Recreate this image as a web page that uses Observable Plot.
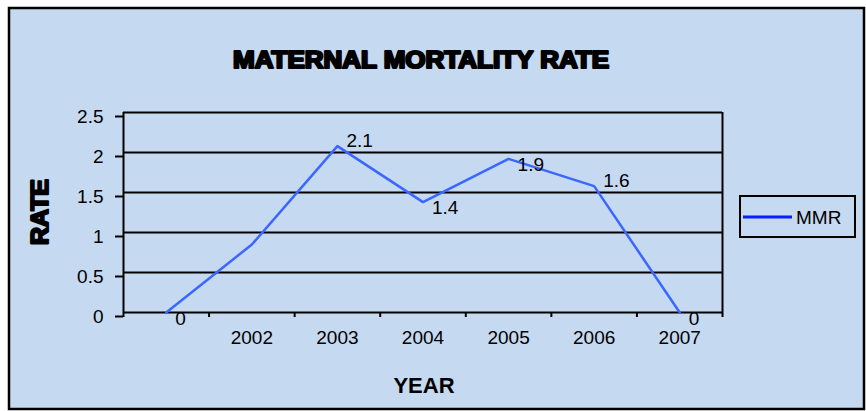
<!DOCTYPE html>
<html><head><meta charset="utf-8">
<script src="https://cdn.jsdelivr.net/npm/d3@7"></script>
<script src="https://cdn.jsdelivr.net/npm/@observablehq/plot@0.6"></script>
<style>html,body{margin:0;padding:0;background:#fff} svg{display:block}</style>
</head><body><div id="chart"></div>
<script>
const categories = ["", "2002", "2003", "2004", "2005", "2006", "2007"];
const values = [0, 0.85, 2.08, 1.38, 1.92, 1.58, 0];
const dataLabels = ["0", "", "2.1", "1.4", "1.9", "1.6", "0"];
const labelsBelow = ["0", "1.4", "1.9"];
const yTicks = [0, 0.5, 1, 1.5, 2, 2.5];
const seriesName = "MMR";
const chartTitle = "MATERNAL MORTALITY RATE";
const xTitle = "YEAR";
const yTitle = "RATE";

const data = categories.map((c, i) => ({i, c, v: values[i], label: dataLabels[i]}));
const bounds = d3.range(categories.length + 1).map(i => i - 0.5);
const font = "'Liberation Sans', Arial, sans-serif";

const plot = Plot.plot({
  width: 866, height: 411,
  marginLeft: 123, marginRight: 144, marginTop: 112, marginBottom: 99,
  style: {background: "transparent", fontFamily: font, fontSize: "19px", color: "#000"},
  x: {type: "linear", domain: [-0.5, categories.length - 0.5]},
  y: {domain: [0, 2.5]},
  marks: [
    Plot.gridY(yTicks, {stroke: "#000", strokeOpacity: 1, strokeWidth: 2}),
    Plot.ruleX([bounds[0], bounds[bounds.length - 1]], {stroke: "#000", strokeWidth: 2}),
    Plot.axisY(yTicks, {tickSize: 8, tickPadding: 12, strokeWidth: 2, stroke: "#000", fontSize: 19, dy: 4, label: null, tickFormat: d => String(d)}),
    Plot.axisX(bounds, {tickSize: 5, strokeWidth: 2, stroke: "#000", tickFormat: () => "", label: null}),
    Plot.axisX(d3.range(categories.length), {tickSize: 0, tickPadding: 18, fontSize: 19, tickFormat: i => categories[i], label: null}),
    Plot.line(data, {x: "i", y: "v", stroke: "#3b66ff", strokeWidth: 2.5}),
    Plot.text(data.filter(d => d.label && labelsBelow.includes(d.label)), {x: "i", y: "v", text: "label", textAnchor: "start", dx: 9, dy: 6, fontSize: 19, fill: "#000"}),
    Plot.text(data.filter(d => d.label && !labelsBelow.includes(d.label)), {x: "i", y: "v", text: "label", textAnchor: "start", dx: 9, dy: -5, fontSize: 19, fill: "#000"})
  ]
});

const svg = d3.select(plot);
svg.insert("rect", ":first-child")
  .attr("x", 9).attr("y", 8).attr("width", 855).attr("height", 401)
  .attr("fill", "#c5d9f0").attr("stroke", "#000").attr("stroke-width", 2.5);

svg.append("text").text(chartTitle)
  .attr("x", 421).attr("y", 68).attr("text-anchor", "middle")
  .attr("font-family", font).attr("font-weight", "bold").attr("font-size", 23)
  .attr("textLength", 376).attr("lengthAdjust", "spacingAndGlyphs")
  .attr("fill", "#000").attr("stroke", "#000").attr("stroke-width", 2.2).attr("stroke-linejoin", "round");

svg.append("text").text(yTitle)
  .attr("transform", "translate(48,212) rotate(-90)").attr("text-anchor", "middle")
  .attr("font-family", font).attr("font-weight", "bold").attr("font-size", 23)
  .attr("textLength", 66).attr("lengthAdjust", "spacingAndGlyphs")
  .attr("fill", "#000").attr("stroke", "#000").attr("stroke-width", 2).attr("stroke-linejoin", "round");

svg.append("text").text(xTitle)
  .attr("x", 424).attr("y", 393).attr("text-anchor", "middle")
  .attr("font-family", font).attr("font-weight", "bold").attr("font-size", 22)
  .attr("fill", "#000");

const lg = svg.append("g");
lg.append("rect").attr("x", 740).attr("y", 196).attr("width", 115).attr("height", 41)
  .attr("fill", "none").attr("stroke", "#000").attr("stroke-width", 2);
lg.append("line").attr("x1", 743).attr("x2", 792).attr("y1", 217).attr("y2", 217)
  .attr("stroke", "#0a1eff").attr("stroke-width", 3);
lg.append("text").text(seriesName).attr("x", 796).attr("y", 224).attr("text-anchor", "start")
  .attr("font-family", font).attr("font-size", 19).attr("fill", "#000");

document.getElementById("chart").appendChild(plot);
</script>
</body></html>
